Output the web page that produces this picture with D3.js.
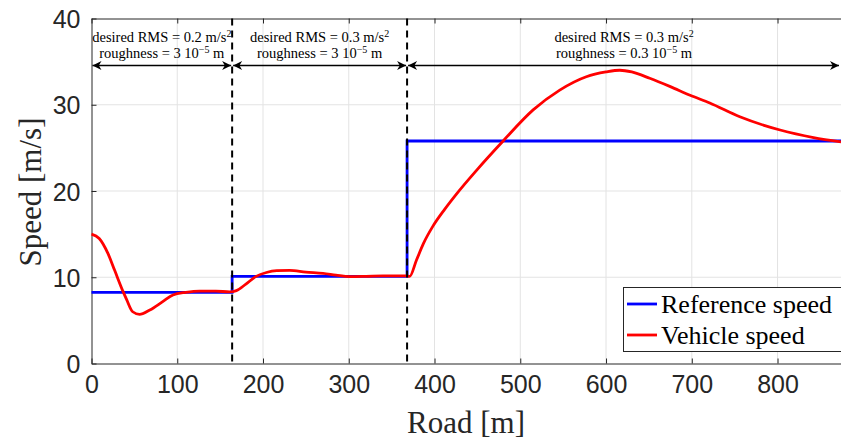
<!DOCTYPE html>
<html>
<head>
<meta charset="utf-8">
<script src="https://cdn.jsdelivr.net/npm/d3@7"></script>
<style>
  body { margin: 0; background: #fff; overflow: hidden; }
  .tick text { font-family: "Liberation Sans", Arial, sans-serif; fill: #262626; }
</style>
</head>
<body>
<script>
//chart data
var xTicks = [0, 100, 200, 300, 400, 500, 600, 700, 800];
var yTicks = [0, 10, 20, 30, 40];

//reference speed: piecewise constant
var refRoad = [0, 164, 164, 368, 368, 874];
var refSpeed = [8.25, 8.25, 10.1, 10.1, 25.8, 25.8];

//vehicle speed
var vehRoad = [0, 9, 19, 27, 37, 41, 48, 56, 68, 83, 95, 110, 126, 145, 161, 169, 180, 192, 204, 216, 231, 250, 270, 285, 301, 320, 340, 355, 367, 371, 379, 387, 398, 412, 426, 449, 480, 515, 546, 577, 600, 616, 630, 651, 675, 698, 721, 756, 803, 842, 874];
var vehSpeed = [15.0, 14.5, 12.8, 10.8, 8.3, 7.4, 6.0, 5.7, 6.2, 7.17, 7.95, 8.25, 8.4, 8.4, 8.3, 8.45, 9.2, 10.1, 10.55, 10.76, 10.8, 10.6, 10.45, 10.25, 10.07, 10.1, 10.15, 10.15, 10.15, 10.1, 12.0, 13.9, 15.9, 17.9, 19.7, 22.4, 25.8, 29.4, 31.7, 33.25, 33.8, 34.0, 33.8, 33.07, 32.1, 31.1, 30.2, 28.6, 27.07, 26.2, 25.7];

//segments of the road with their test conditions
var segStart = [0, 164, 368];
var segEnd = [164, 368, 874];
var segRms = ["0.2", "0.3", "0.3"];
var segRough = ["3", "3", "0.3"];

window.onload = function(){
  var w = 841, h = 443;
  var left = 91.5, right = 841, top = 18.5, bottom = 363.5;

  var svg = d3.select("body").append("svg")
      .attr("width", w)
      .attr("height", h);

  var x = d3.scaleLinear().domain([0, 874]).range([left, right]);
  var y = d3.scaleLinear().domain([0, 40]).range([bottom, top]);

  //grid lines
  svg.append("g").selectAll("line")
      .data(xTicks.slice(1))
      .enter().append("line")
      .attr("x1", function(d){ return x(d); })
      .attr("x2", function(d){ return x(d); })
      .attr("y1", top).attr("y2", bottom)
      .style("stroke", "#e3e3e3").style("stroke-width", 1);
  svg.append("g").selectAll("line")
      .data(yTicks.slice(1, -1))
      .enter().append("line")
      .attr("y1", function(d){ return y(d); })
      .attr("y2", function(d){ return y(d); })
      .attr("x1", left).attr("x2", right)
      .style("stroke", "#e3e3e3").style("stroke-width", 1);

  //axes (MATLAB style, ticks inside)
  var xAxis = svg.append("g")
      .attr("transform", "translate(0," + bottom + ")")
      .call(d3.axisBottom(x).tickValues(xTicks).tickSizeInner(-5).tickSizeOuter(0).tickPadding(12));
  var xTop = svg.append("g")
      .attr("transform", "translate(0," + top + ")")
      .call(d3.axisTop(x).tickValues(xTicks).tickSizeInner(-5).tickSizeOuter(0).tickFormat(""));
  var yAxis = svg.append("g")
      .attr("transform", "translate(" + left + ",0)")
      .call(d3.axisLeft(y).tickValues(yTicks).tickSizeInner(-5).tickSizeOuter(0).tickPadding(11));
  [xAxis, xTop, yAxis].forEach(function(a){
    a.selectAll("path, line").style("stroke", "#262626").style("stroke-width", 1);
    a.selectAll("text").style("font-size", "25px");
  });
  yAxis.selectAll("text").attr("dy", "0.36em");

  //reference speed line
  var refLine = d3.line()
      .x(function(d){ return x(d[0]); })
      .y(function(d){ return y(d[1]); });
  svg.append("path")
      .datum(d3.zip(refRoad, refSpeed))
      .attr("d", refLine)
      .style("fill", "none")
      .style("stroke", "#0000ff")
      .style("stroke-width", 2.8);

  //vehicle speed line
  var vehLine = d3.line()
      .curve(d3.curveMonotoneX)
      .x(function(d){ return x(d[0]); })
      .y(function(d){ return y(d[1]); });
  svg.append("path")
      .datum(d3.zip(vehRoad, vehSpeed))
      .attr("d", vehLine)
      .style("fill", "none")
      .style("stroke", "#ff0000")
      .style("stroke-width", 2.8);

  //dashed segment boundaries
  svg.append("g").selectAll("line")
      .data(segStart.slice(1))
      .enter().append("line")
      .attr("x1", function(d){ return x(d); })
      .attr("x2", function(d){ return x(d); })
      .attr("y1", top).attr("y2", bottom)
      .style("stroke", "#000")
      .style("stroke-width", 2)
      .style("stroke-dasharray", "7,5");

  //arrow heads
  var defs = svg.append("defs");
  defs.append("marker")
      .attr("id", "head")
      .attr("viewBox", "0 0 10 10")
      .attr("refX", 10).attr("refY", 5)
      .attr("markerWidth", 11).attr("markerHeight", 9)
      .attr("markerUnits", "userSpaceOnUse")
      .attr("orient", "auto-start-reverse")
      .append("path")
      .attr("d", "M0,0 L10,5 L0,10 L3,5 Z")
      .style("fill", "#000");

  var arrowY = 65.5;
  svg.append("g").selectAll("line")
      .data(d3.range(segStart.length))
      .enter().append("line")
      .attr("x1", function(i){ return x(segStart[i]) + 1; })
      .attr("x2", function(i){ return Math.min(x(segEnd[i]), right - 1) - 1; })
      .attr("y1", arrowY).attr("y2", arrowY)
      .style("stroke", "#000")
      .style("stroke-width", 1.6)
      .attr("marker-start", "url(#head)")
      .attr("marker-end", "url(#head)");

  //segment labels
  var notes = svg.append("g").selectAll("g")
      .data(d3.range(segStart.length))
      .enter().append("g")
      .attr("transform", function(i){
        var cx = (x(segStart[i]) + Math.min(x(segEnd[i]), right)) / 2;
        return "translate(" + cx + ",0)";
      })
      .style("font-family", "'Liberation Serif', 'Times New Roman', serif")
      .style("font-size", "14.5px")
      .style("fill", "#000");

  var line1 = notes.append("text")
      .attr("text-anchor", "middle")
      .attr("y", 42);
  line1.append("tspan").text(function(i){ return "desired RMS = " + segRms[i] + " m/s"; });
  line1.append("tspan").attr("dy", -5).style("font-size", "10px").text("2");

  var line2 = notes.append("text")
      .attr("text-anchor", "middle")
      .attr("y", 58);
  line2.append("tspan").text(function(i){ return "roughness = " + segRough[i] + " 10"; });
  line2.append("tspan").attr("dy", -5).style("font-size", "10px").text("\u22125");
  line2.append("tspan").attr("dy", 5).text(" m");

  //axis titles
  svg.append("text")
      .attr("x", 466).attr("y", 433)
      .attr("text-anchor", "middle")
      .style("font-family", "'Liberation Serif', 'Times New Roman', serif")
      .style("font-size", "31px")
      .style("fill", "#262626")
      .text("Road [m]");
  svg.append("text")
      .attr("transform", "translate(41,192) rotate(-90)")
      .attr("text-anchor", "middle")
      .style("font-family", "'Liberation Serif', 'Times New Roman', serif")
      .style("font-size", "31px")
      .style("fill", "#262626")
      .text("Speed [m/s]");

  //legend
  var legend = svg.append("g");
  legend.append("rect")
      .attr("x", 623.5).attr("y", 287.5)
      .attr("width", 240).attr("height", 64)
      .style("fill", "#fff")
      .style("stroke", "#262626")
      .style("stroke-width", 1);
  var items = [["Reference speed", "#0000ff"], ["Vehicle speed", "#ff0000"]];
  var entry = legend.selectAll(".entry")
      .data(items)
      .enter().append("g")
      .attr("class", "entry")
      .attr("transform", function(d, i){ return "translate(0," + (304 + i * 31) + ")"; });
  entry.append("line")
      .attr("x1", 627).attr("x2", 657)
      .style("stroke", function(d){ return d[1]; })
      .style("stroke-width", 2.8);
  entry.append("text")
      .attr("x", 661).attr("dy", "0.33em")
      .style("font-family", "'Liberation Serif', 'Times New Roman', serif")
      .style("font-size", "26px")
      .style("fill", "#000")
      .text(function(d){ return d[0]; });
};
</script>
</body>
</html>
